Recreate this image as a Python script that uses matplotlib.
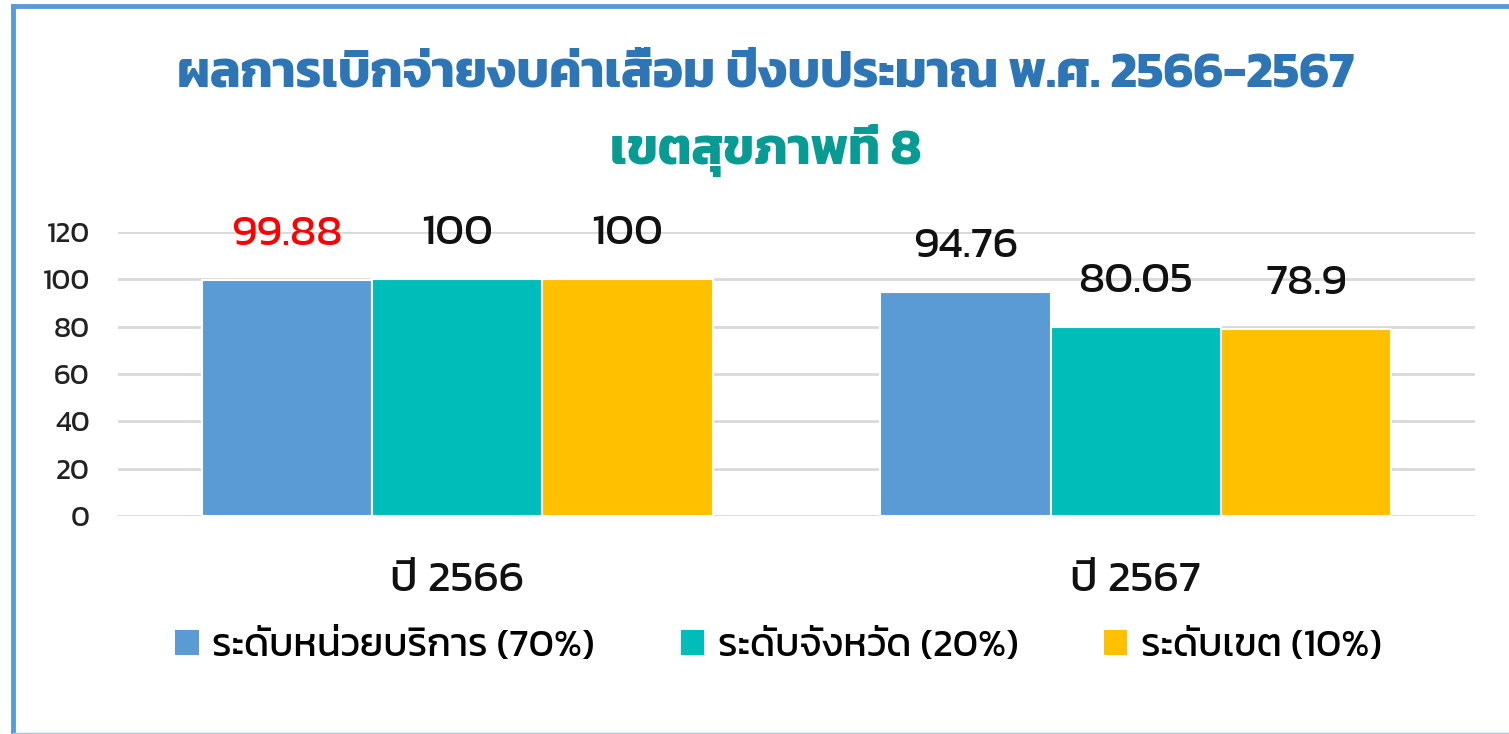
import matplotlib
matplotlib.use("Agg")
import numpy as np
import matplotlib.pyplot as plt
from matplotlib.lines import Line2D
from matplotlib.patches import Patch

# ข้อมูล
ปี = ["ปี 2566", "ปี 2567"]
ชุดข้อมูล = ["ระดับหน่วยบริการ (70%)", "ระดับจังหวัด (20%)", "ระดับเขต (10%)"]
หน่วยบริการ = [99.88, 94.76]
จังหวัด = [100, 80.05]
เขต = [100, 78.9]
ป้ายค่า = [["99.88", "94.76"], ["100", "80.05"], ["100", "78.9"]]
สี = ["#5B9BD5", "#00BDB9", "#FFC000"]
yticks = [0, 20, 40, 60, 80, 100, 120]

plt.rcParams['font.family'] = ['Kanit', 'DejaVu Sans']

fig = plt.figure(figsize=(15.09, 7.34), dpi=100)
ax = fig.add_axes([0.078, 0.297, 0.8995, 0.387])

x = np.arange(len(ปี))
w = 0.251
ค่าทั้งหมด = [หน่วยบริการ, จังหวัด, เขต]
for i, (ค่า, c) in enumerate(zip(ค่าทั้งหมด, สี)):
    pos = x + (i - 1) * w
    ax.bar(pos, ค่า, width=w, color=c, edgecolor="white", linewidth=1.5, zorder=3)
    for j in range(len(ปี)):
        สีป้าย = "#FF0000" if (i == 0 and j == 0) else "#111111"
        ax.text(pos[j], ค่า[j] + 19, ป้ายค่า[i][j], ha="center", va="center",
                fontsize=32, color=สีป้าย, clip_on=False, zorder=4)

ax.set_xlim(-0.5, 1.5)
ax.set_ylim(0, 120)
ax.set_yticks(yticks)
ax.set_yticklabels([str(v) for v in yticks], fontsize=21, color="#222222")
ax.set_xticks(x)
ax.set_xticklabels(ปี, fontsize=32, color="#111111")
ax.tick_params(axis="both", length=0)
ax.tick_params(axis="y", pad=20)
ax.tick_params(axis="x", pad=33)
ax.grid(axis="y", color="#D9D9D9", linewidth=2, zorder=0)
for s in ax.spines.values():
    s.set_visible(False)

# หัวเรื่อง
fig.text(0.5076, 0.898, "ผลการเบิกจ่ายงบค่าเสื่อม ปีงบประมาณ พ.ศ. 2566-2567", ha="center", va="center",
         fontsize=36.5, fontweight="bold", color="#2E75B6")
fig.text(0.5076, 0.795, "เขตสุขภาพที่ 8", ha="center", va="center",
         fontsize=36.5, fontweight="bold", color="#079B93")

# คำอธิบาย
handles = [Patch(facecolor=c, edgecolor="none") for c in สี]
fig.legend(handles, ชุดข้อมูล, loc="center", bbox_to_anchor=(0.516, 0.119), ncol=3,
           frameon=False, prop={"size": 28}, handlelength=0.6,
           handleheight=0.6, handletextpad=0.35, columnspacing=2.2)

# กรอบ
fig.add_artist(Line2D([13 / 1509, 13 / 1509], [0, 1 - 6 / 734], transform=fig.transFigure,
                      color="#5B9BD5", linewidth=3.5))
fig.add_artist(Line2D([13 / 1509, 1], [1 - 6 / 734, 1 - 6 / 734], transform=fig.transFigure,
                      color="#5B9BD5", linewidth=3.5))
fig.add_artist(Line2D([13 / 1509, 1], [1 / 734, 1 / 734], transform=fig.transFigure,
                      color="#A9C6E8", linewidth=1))

fig.savefig("out.png", dpi=100)
